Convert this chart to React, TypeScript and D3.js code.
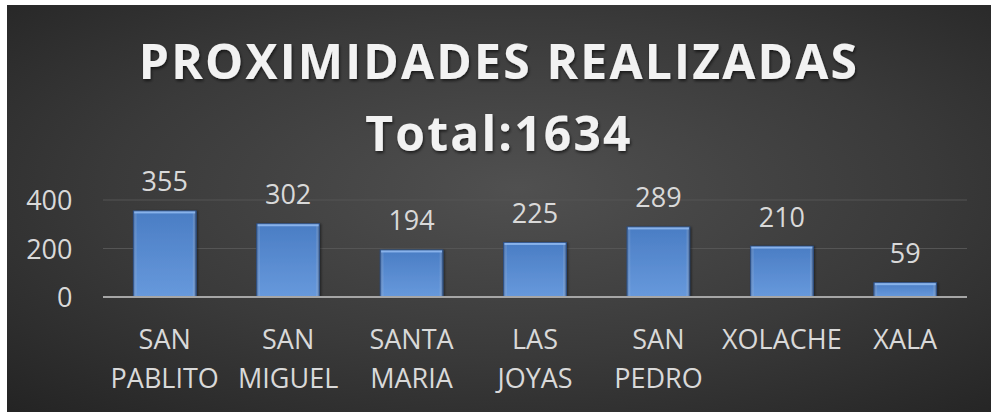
import React from "react";
import * as d3 from "d3";

const categories = ["SAN PABLITO", "SAN MIGUEL", "SANTA MARIA", "LAS JOYAS", "SAN PEDRO", "XOLACHE", "XALA"];
const values = [355, 302, 194, 225, 289, 210, 59];
const yTicks = [0, 200, 400];
const titleLines = ["PROXIMIDADES REALIZADAS", "Total:1634"];

const W = 992;
const H = 412;
const FONT = "'Open Sans', sans-serif";

export default function App() {
  const x = d3.scaleBand<string>().domain(categories).range([103, 967]).paddingInner(0.49).paddingOuter(0.245);
  const y = d3.scaleLinear().domain([0, 400]).range([297, 200]);

  return (
    <svg width={W} height={H} style={{ position: "absolute", left: 0, top: 0, display: "block" }}>
      <defs>
        <radialGradient id="bg" cx="0.52" cy="0.45" r="0.75" gradientUnits="objectBoundingBox">
          <stop offset="0" stopColor="#505050" />
          <stop offset="0.55" stopColor="#3a3a3a" />
          <stop offset="1" stopColor="#242424" />
        </radialGradient>
        <linearGradient id="barV" x1="0" y1="0" x2="0" y2="1">
          <stop offset="0" stopColor="#4a7dc4" />
          <stop offset="1" stopColor="#6799dc" />
        </linearGradient>
        <linearGradient id="barH" x1="0" y1="0" x2="1" y2="0">
          <stop offset="0" stopColor="#1f3a66" stopOpacity="0.55" />
          <stop offset="0.06" stopColor="#ffffff" stopOpacity="0.0" />
          <stop offset="0.94" stopColor="#ffffff" stopOpacity="0.0" />
          <stop offset="1" stopColor="#14284a" stopOpacity="0.7" />
        </linearGradient>
        <filter id="tshadow" x="-10%" y="-30%" width="120%" height="160%">
          <feDropShadow dx="1" dy="2" stdDeviation="1.5" floodColor="#000" floodOpacity="0.6" />
        </filter>
        <filter id="bshadow" x="-20%" y="-10%" width="140%" height="120%">
          <feDropShadow dx="1.5" dy="0" stdDeviation="1.2" floodColor="#000" floodOpacity="0.5" />
        </filter>
      </defs>
      <rect x={0} y={0} width={W} height={H} fill="#ffffff" />
      <rect x={7} y={5} width={984} height={407} fill="url(#bg)" />

      {titleLines.map((t, i) => (
        <text
          key={t}
          x={499}
          y={i === 0 ? 79 : 151}
          textAnchor="middle"
          fontFamily={FONT}
          fontWeight={700}
          fontSize={48}
          letterSpacing={2.2}
          fill="#f2f2f2"
          filter="url(#tshadow)"
        >
          {t}
        </text>
      ))}

      {yTicks.filter((t) => t > 0).map((t) => (
        <line key={"g" + t} x1={103} x2={967} y1={y(t)} y2={y(t)} stroke="#555555" strokeWidth={1} />
      ))}

      {yTicks.map((t) => (
        <text
          key={"yt" + t}
          x={72.5}
          y={y(t) + 10}
          textAnchor="end"
          fontFamily={FONT}
          fontSize={27}
          fill="#d9d9d9"
        >
          {t}
        </text>
      ))}

      {categories.map((c, i) => {
        const bx = x(c) as number;
        const bw = x.bandwidth();
        const top = y(values[i]);
        const h = y(0) - top;
        return (
          <g key={c}>
            <rect x={bx} y={top} width={bw} height={h} fill="url(#barV)" filter="url(#bshadow)" />
            <rect x={bx} y={top} width={bw} height={h} fill="url(#barH)" />
            <rect x={bx + 1} y={top} width={bw - 2} height={2.5} fill="#8fb8ee" opacity={0.9} />
            <rect x={bx} y={top} width={bw} height={h} fill="none" stroke="#2c4f85" strokeWidth={0.8} />
            <text
              x={bx + bw / 2}
              y={top - 19.5}
              textAnchor="middle"
              fontFamily={FONT}
              fontSize={27}
              fill="#d9d9d9"
            >
              {values[i]}
            </text>
          </g>
        );
      })}

      <line x1={103} x2={967} y1={y(0)} y2={y(0)} stroke="#a6a6a6" strokeWidth={2} />

      {categories.map((c) => {
        const cx = (x(c) as number) + x.bandwidth() / 2;
        const lines = c.split(" ");
        return lines.map((ln, j) => (
          <text
            key={c + j}
            x={cx}
            y={349 + j * 39}
            textAnchor="middle"
            fontFamily={FONT}
            fontSize={27}
            fill="#d9d9d9"
          >
            {ln}
          </text>
        ));
      })}
    </svg>
  );
}
